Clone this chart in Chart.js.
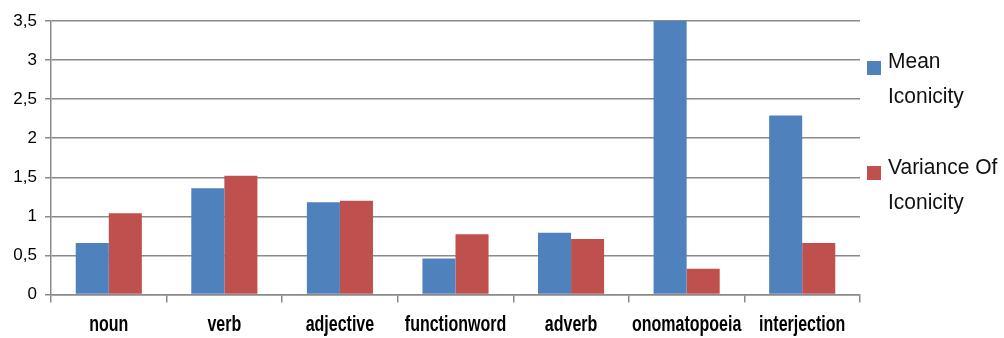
<!DOCTYPE html>
<html>
<head>
<meta charset="utf-8">
<script src="https://cdn.jsdelivr.net/npm/chart.js@4/dist/chart.umd.min.js"></script>
<style>
  html, body { margin: 0; padding: 0; background: #fff; }
  #wrap { position: relative; width: 1004px; height: 338px; }
  #chart { position: absolute; left: 0; top: 0; }
  .legend-item { position: absolute; left: 867px; font-family: "Liberation Sans", Arial, sans-serif; font-size: 21px; line-height: 33px; color: #111; }
  .legend-item .swatch { position: absolute; left: 0; width: 14px; height: 14px; }
  .legend-item .label { position: absolute; left: 21px; top: 0; white-space: nowrap; transform: scaleY(1.06); transform-origin: 0 0; }
</style>
</head>
<body>
<div id="wrap">
  <canvas id="chart" width="1004" height="338"></canvas>
  <div id="legend"></div>
</div>
<script>
// Word classes and their iconicity statistics
const categories = ['noun', 'verb', 'adjective', 'functionword', 'adverb', 'onomatopoeia', 'interjection'];
const meanIconicity = [0.66, 1.36, 1.18, 0.46, 0.79, 3.5, 2.29];
const varianceIconicity = [1.04, 1.52, 1.20, 0.77, 0.71, 0.33, 0.66];
const seriesNames = [['Mean', 'Iconicity'], ['Variance Of', 'Iconicity']];
const seriesColors = ['#4F81BD', '#C0504D'];

const gridColor = '#8a8a8a';

// Category labels drawn in a tall, condensed bold face under each tick slot
const tallCategoryLabels = {
  id: 'tallCategoryLabels',
  afterDraw(chart) {
    const ctx = chart.ctx;
    const xs = chart.scales.x;
    const baseline = xs.top + 36;
    ctx.save();
    ctx.fillStyle = '#000';
    ctx.font = 'bold 16px "Liberation Sans", Arial, sans-serif';
    ctx.textAlign = 'center';
    ctx.textBaseline = 'alphabetic';
    chart.data.labels.forEach((lab, i) => {
      const x = xs.getPixelForValue(i);
      ctx.save();
      ctx.translate(x, baseline);
      ctx.scale(1, 1.4);
      ctx.fillText(lab, 0, 0);
      ctx.restore();
    });
    ctx.restore();
  }
};

const chart = new Chart(document.getElementById('chart'), {
  type: 'bar',
  data: {
    labels: categories,
    datasets: [
      { label: seriesNames[0].join(' '), data: meanIconicity, backgroundColor: seriesColors[0] },
      { label: seriesNames[1].join(' '), data: varianceIconicity, backgroundColor: seriesColors[1] }
    ]
  },
  plugins: [tallCategoryLabels],
  options: {
    responsive: false,
    animation: false,
    devicePixelRatio: 1,
    datasets: { bar: { categoryPercentage: 0.572, barPercentage: 1.0 } },
    layout: { padding: { top: 21, right: 144, left: 0, bottom: 0 } },
    plugins: { legend: { display: false }, tooltip: { enabled: false } },
    scales: {
      x: {
        offset: true,
        grid: { offset: true, drawOnChartArea: false, drawTicks: true, tickLength: 8, color: gridColor, lineWidth: 1.5 },
        border: { display: true, color: gridColor, width: 1.5 },
        ticks: { display: false },
        afterFit: (s) => { s.height = 43.5; }
      },
      y: {
        min: 0,
        max: 3.5,
        ticks: {
          stepSize: 0.5,
          color: '#000',
          padding: 8,
          font: { family: '"Liberation Sans", Arial, sans-serif', size: 17 },
          callback: (v) => String(v).replace('.', ',')
        },
        grid: { color: gridColor, lineWidth: 1.5, drawTicks: true, tickLength: 6 },
        border: { display: true, color: gridColor, width: 1.5 },
        afterFit: (s) => { s.width = 51; }
      }
    }
  }
});

// Two-line legend at the right of the plot
const legend = document.getElementById('legend');
const tops = [43, 149];
const swatchOffset = [18, 17];
seriesNames.forEach((lines, i) => {
  const item = document.createElement('div');
  item.className = 'legend-item';
  item.style.top = tops[i] + 'px';
  const sw = document.createElement('div');
  sw.className = 'swatch';
  sw.style.background = seriesColors[i];
  sw.style.top = swatchOffset[i] + 'px';
  const lb = document.createElement('div');
  lb.className = 'label';
  lb.innerHTML = lines.join('<br>');
  item.appendChild(sw);
  item.appendChild(lb);
  legend.appendChild(item);
});
</script>
</body>
</html>
